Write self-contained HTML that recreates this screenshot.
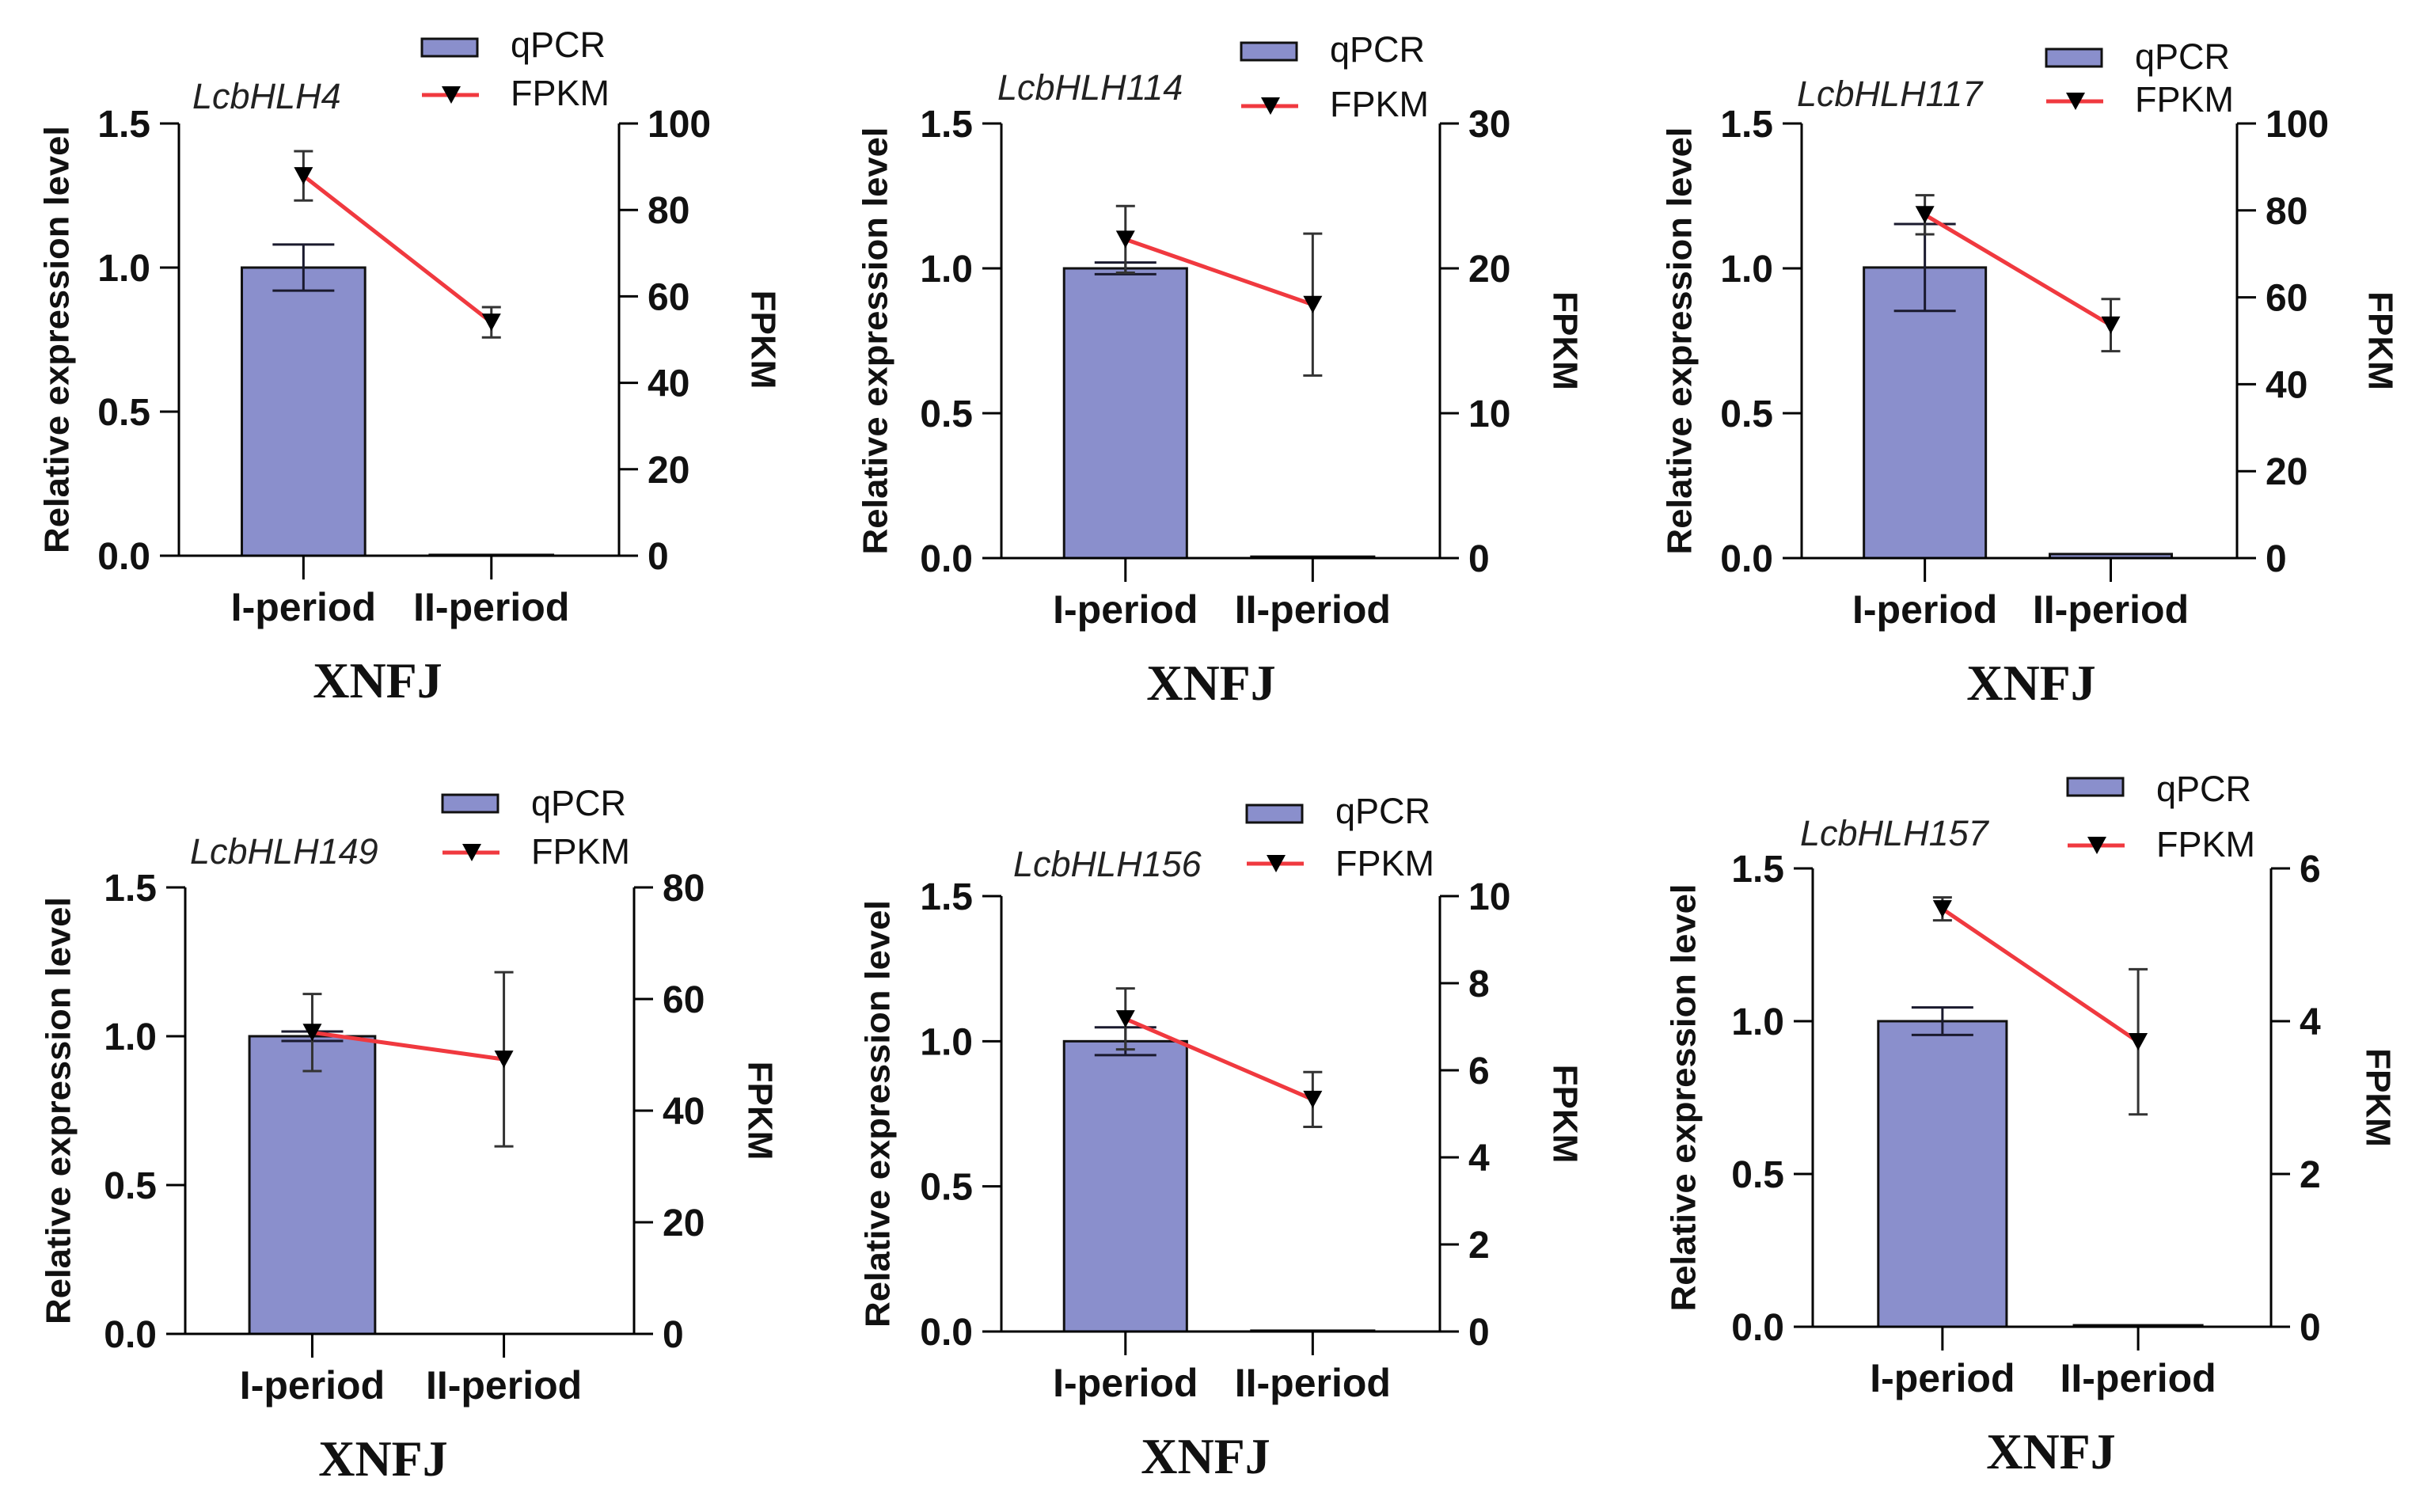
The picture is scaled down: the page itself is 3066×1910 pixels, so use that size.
<!DOCTYPE html>
<html><head><meta charset="utf-8">
<style>
html,body{margin:0;padding:0;background:#fff;}
svg{display:block;}
</style></head>
<body>
<svg id="fig" width="3066" height="1910" viewBox="0 0 3066 1910" xmlns="http://www.w3.org/2000/svg">
<rect x="0" y="0" width="3066" height="1910" fill="#fff"/>
</svg>
<script>
const genes = ['LcbHLH4','LcbHLH114','LcbHLH117','LcbHLH149','LcbHLH156','LcbHLH157'];
const categories = ['I-period','II-period'];
const qpcrMeans = [[1.0,0.003],[1.0,0.005],[1.003,0.014],[1.0,0],[1.0,0.003],[1.0,0.005]];
const qpcrErrs = [[0.08,0],[0.02,0],[0.15,0],[0.016,0],[0.048,0],[0.045,0]];
const fpkmMeans = [[87.9,54],[22.0,17.5],[79,53.6],[54,49.2],[7.18,5.33],[5.47,3.73]];
const fpkmErrs = [[5.7,3.5],[2.3,4.9],[4.5,6],[6.9,15.6],[0.7,0.63],[0.15,0.95]];
const fpkmMax = [100,30,100,80,10,6];
const fpkmStep = [20,10,20,20,2,2];
const leftTicks = [0,0.5,1.0,1.5];
const leftTickLabels = ['0.0','0.5','1.0','1.5'];

const layouts = [
 {L:226,R:782,T:156,B:702,lx:533,ly:49,qb:72,fl:120,fb:133,tx:243,tb:137,ytx:72,rtx:964,xn:477},
 {L:1265,R:1819,T:156,B:705,lx:1568,ly:54,qb:78,fl:134,fb:147,tx:1260,tb:126,ytx:1106,rtx:1977,xn:1530},
 {L:2276,R:2826,T:156,B:705,lx:2585,ly:62,qb:87,fl:128,fb:141,tx:2270,tb:134,ytx:2122,rtx:3007,xn:2566},
 {L:234,R:801,T:1121,B:1685,lx:559,ly:1004,qb:1030,fl:1077,fb:1091,tx:240,tb:1091,ytx:74,rtx:960,xn:484},
 {L:1265,R:1819,T:1132,B:1682,lx:1575,ly:1017,qb:1040,fl:1091,fb:1106,tx:1280,tb:1107,ytx:1109,rtx:1977,xn:1523},
 {L:2290,R:2869,T:1097,B:1676,lx:2612,ly:983,qb:1012,fl:1068,fb:1082,tx:2274,tb:1068,ytx:2127,rtx:3004,xn:2591}
];
const NS='http://www.w3.org/2000/svg';
const svg=document.getElementById('fig');
function mk(tag,attrs,parent){const e=document.createElementNS(NS,tag);for(const k in attrs)e.setAttribute(k,attrs[k]);(parent||svg).appendChild(e);return e;}
const SANS='"Liberation Sans", Arial, sans-serif';
const SERIF='"Liberation Serif", "Times New Roman", serif';

genes.forEach((gene,p)=>{
  const o=layouts[p];
  const g=mk('g',{});
  
  
  const W=o.R-o.L;
  const yL=v=>o.B-(v/1.5)*(o.B-o.T);
  const yR=v=>o.B-(v/fpkmMax[p])*(o.B-o.T);
  const xC=i=>o.L+W*(i===0?0.283:0.71);
  const bw=W*0.28;

  // bars
  categories.forEach((c,i)=>{
    const v=qpcrMeans[p][i];
    const top=yL(v);
    const r=mk('rect',{x:xC(i)-bw/2,y:top,width:bw,height:Math.max(o.B-top,0.5),fill:'#8a8fcc',stroke:'#111',
      'stroke-width':v>0?3:1.5},g);
    
    
    const e=qpcrErrs[p][i];
    if(e>0){
      const eg=mk('g',{stroke:'#1a1a2e','stroke-width':3},g);
      
      
      mk('line',{x1:xC(i),x2:xC(i),y1:yL(v+e),y2:yL(v-e)},eg);
      mk('line',{x1:xC(i)-39,x2:xC(i)+39,y1:yL(v+e),y2:yL(v+e)},eg);
      mk('line',{x1:xC(i)-39,x2:xC(i)+39,y1:yL(v-e),y2:yL(v-e)},eg);
    }
  });

  // axes
  const ax=mk('g',{stroke:'#000','stroke-width':3,fill:'none'},g);
  
  
  mk('line',{x1:o.L,x2:o.L,y1:o.T,y2:o.B},ax);
  mk('line',{x1:o.R,x2:o.R,y1:o.T,y2:o.B},ax);
  mk('line',{x1:o.L-24,x2:o.R+24,y1:o.B,y2:o.B},ax);
  leftTicks.forEach((t,k)=>{
    mk('line',{x1:o.L-24,x2:o.L,y1:yL(t),y2:yL(t)},ax);
    const tl=mk('text',{x:o.L-36,y:yL(t)+17,'text-anchor':'end','font-family':SANS,'font-weight':'bold','font-size':48,fill:'#111'},g);
    tl.textContent=leftTickLabels[k];
    
    
  });
  for(let t=0;t<=fpkmMax[p]+1e-9;t+=fpkmStep[p]){
    mk('line',{x1:o.R,x2:o.R+24,y1:yR(t),y2:yR(t)},ax);
    const tl=mk('text',{x:o.R+36,y:yR(t)+17,'text-anchor':'start','font-family':SANS,'font-weight':'bold','font-size':48,fill:'#111'},g);
    tl.textContent=String(Math.round(t));
    
    
  }
  categories.forEach((c,i)=>{
    mk('line',{x1:xC(i),x2:xC(i),y1:o.B,y2:o.B+30},ax);
    const cl=mk('text',{x:xC(i),y:o.B+82,'text-anchor':'middle','font-family':SANS,'font-weight':'bold','font-size':50,fill:'#111'},g);
    cl.textContent=c;
    
    
  });

  // FPKM line
  const pts=categories.map((c,i)=>xC(i)+','+yR(fpkmMeans[p][i])).join(' ');
  const pl=mk('polyline',{points:pts,fill:'none',stroke:'#f0393f','stroke-width':5},g);
  
  
  categories.forEach((c,i)=>{
    const v=fpkmMeans[p][i],e=fpkmErrs[p][i],x=xC(i),y=yR(v);
    const eg=mk('g',{stroke:'#333','stroke-width':3},g);
    
    
    mk('line',{x1:x,x2:x,y1:yR(v+e),y2:yR(v-e)},eg);
    mk('line',{x1:x-12,x2:x+12,y1:yR(v+e),y2:yR(v+e)},eg);
    mk('line',{x1:x-12,x2:x+12,y1:yR(v-e),y2:yR(v-e)},eg);
    const m=mk('polygon',{points:(x-12)+','+(y-11)+' '+(x+12)+','+(y-11)+' '+x+','+(y+11),fill:'#000'},g);
    
    
  });

  // legend
  const lg=mk('g',{},g);
  
  
  const lr=mk('rect',{x:o.lx,y:o.ly,width:70,height:22,fill:'#8a8fcc',stroke:'#111','stroke-width':3},lg);
  
  
  const lq=mk('text',{x:o.lx+112,y:o.qb,'font-family':SANS,'font-size':45,fill:'#111'},lg);
  lq.textContent='qPCR';
  
  
  mk('line',{x1:o.lx,x2:o.lx+72,y1:o.fl,y2:o.fl,stroke:'#f0393f','stroke-width':5},lg);
  const mx=o.lx+37;
  mk('polygon',{points:(mx-12)+','+(o.fl-11)+' '+(mx+12)+','+(o.fl-11)+' '+mx+','+(o.fl+11),fill:'#000'},lg);
  const lf=mk('text',{x:o.lx+112,y:o.fb,'font-family':SANS,'font-size':45,fill:'#111'},lg);
  lf.textContent='FPKM';
  
  

  // titles
  const tt=mk('text',{x:o.tx,y:o.tb,'font-family':SANS,'font-style':'italic','font-size':45,fill:'#222'},g);
  tt.textContent=gene;
  
  
  const cy=(o.T+o.B)/2;
  const yt=mk('text',{x:0,y:0,transform:'translate('+o.ytx+','+cy+') rotate(-90)','text-anchor':'middle','dominant-baseline':'central','font-family':SANS,'font-weight':'bold','font-size':44,fill:'#111',textLength:540,lengthAdjust:'spacingAndGlyphs'},g);
  yt.textContent='Relative expression level';
  
  
  const rt=mk('text',{x:0,y:0,transform:'translate('+o.rtx+','+cy+') rotate(90)','text-anchor':'middle','dominant-baseline':'central','font-family':SANS,'font-weight':'bold','font-size':44,fill:'#111'},g);
  rt.textContent='FPKM';
  
  
  const xt=mk('text',{x:o.xn,y:o.B+179,'text-anchor':'middle','font-family':SERIF,'font-weight':'bold','font-size':64,fill:'#111'},g);
  xt.textContent='XNFJ';
  
  
});
</script>
</body></html>
